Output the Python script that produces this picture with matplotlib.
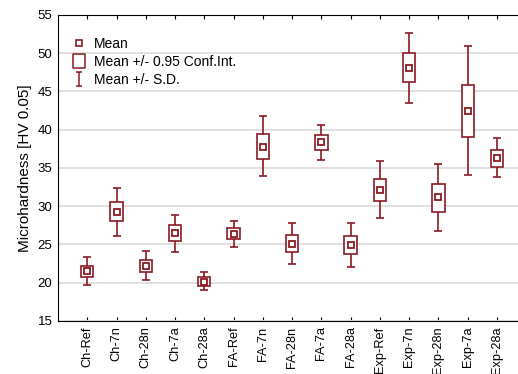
import matplotlib
matplotlib.use('Agg')
import matplotlib.pyplot as plt
from matplotlib.path import Path
from matplotlib.lines import Line2D

plt.rcParams['font.family'] = ['Liberation Sans', 'DejaVu Sans']

groups = ['Ch-Ref', 'Ch-7n', 'Ch-28n', 'Ch-7a', 'Ch-28a',
          'FA-Ref', 'FA-7n', 'FA-28n', 'FA-7a', 'FA-28a',
          'Exp-Ref', 'Exp-7n', 'Exp-28n', 'Exp-7a', 'Exp-28a']
mean  = [21.5, 29.3, 22.2, 26.5, 20.1, 26.4, 37.8, 25.1, 38.4, 24.9, 32.1, 48.0, 31.2, 42.5, 36.3]
ci_lo = [20.8, 28.0, 21.4, 25.4, 19.6, 25.7, 36.2, 24.0, 37.4, 23.7, 30.7, 46.2, 29.3, 39.1, 35.1]
ci_hi = [22.2, 30.6, 23.0, 27.5, 20.8, 27.1, 39.4, 26.2, 39.3, 26.1, 33.6, 50.0, 32.9, 45.8, 37.4]
sd_lo = [19.7, 26.1, 20.3, 24.0, 19.0, 24.7, 33.9, 22.5, 36.1, 22.0, 28.5, 43.5, 26.7, 34.1, 33.8]
sd_hi = [23.3, 32.4, 24.2, 28.9, 21.4, 28.1, 41.8, 27.8, 40.6, 27.8, 35.9, 52.6, 35.5, 50.9, 38.9]

col = '#8b1a22'
x = list(range(len(groups)))

fig = plt.figure(figsize=(5.18, 3.74), dpi=100)
ax = fig.add_axes([0.112, 0.142, 0.888, 0.818])

# whiskers (S.D.)
ax.errorbar(x, mean, yerr=[[m - l for m, l in zip(mean, sd_lo)],
                           [h - m for m, h in zip(mean, sd_hi)]],
            fmt='none', ecolor=col, elinewidth=1.2, capsize=3, capthick=1.2, zorder=2)
# boxes (0.95 conf. int.)
ax.bar(x, [h - l for l, h in zip(ci_lo, ci_hi)], bottom=ci_lo, width=0.42,
       facecolor='white', edgecolor=col, linewidth=1.2, zorder=3)
# mean
ax.plot(x, mean, 's', ms=4, mfc='white', mec=col, mew=1.3, ls='none', zorder=4)

ax.set_ylim(15, 55)
ax.set_xlim(-1, 14.72)
ax.set_yticks(range(15, 56, 5))
ax.set_xticks(x)
ax.set_xticklabels(groups, rotation=90, fontsize=9.2)
ax.tick_params(axis='y', labelsize=9.5, length=0, pad=4)
ax.tick_params(axis='x', direction='in', length=3, top=True, pad=4)
ax.grid(axis='y', color='#dddddd', linewidth=1.3)
ax.set_axisbelow(True)
ax.spines['right'].set_visible(False)
ax.set_ylabel('Microhardness [HV 0.05]', fontsize=11)

# legend handles
ibeam = Path([(-0.4, 1), (0.4, 1), (0, 1), (0, -1), (-0.4, -1), (0.4, -1)],
             [Path.MOVETO, Path.LINETO, Path.MOVETO, Path.LINETO, Path.MOVETO, Path.LINETO])
rect = Path([(-0.43, -0.5), (0.43, -0.5), (0.43, 0.5), (-0.43, 0.5), (-0.43, -0.5)],
            [Path.MOVETO, Path.LINETO, Path.LINETO, Path.LINETO, Path.CLOSEPOLY])
handles = [
    Line2D([], [], marker='s', ms=3.8, mfc='white', mec=col, mew=1.2, ls='none'),
    Line2D([], [], marker=rect, ms=10, mfc='white', mec=col, mew=1.1, ls='none'),
    Line2D([], [], marker=ibeam, ms=10.5, mfc='none', mec=col, mew=1.1, ls='none'),
]
ax.legend(handles, ['Mean', 'Mean +/- 0.95 Conf.Int.', 'Mean +/- S.D.'],
          loc='upper left', bbox_to_anchor=(0.0, 0.97), frameon=False,
          fontsize=10, handlelength=1.2, handletextpad=0.5, labelspacing=0.3,
          borderaxespad=0.5)

fig.savefig('out.png', dpi=100)
